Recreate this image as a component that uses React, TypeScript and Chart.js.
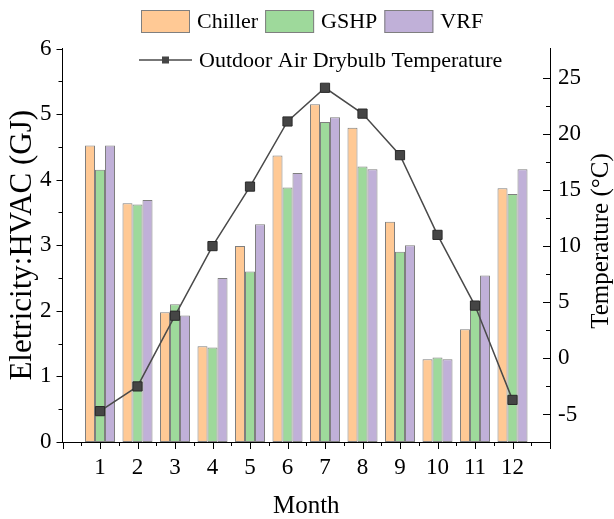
import { useEffect, useRef } from 'react';
import { Chart, registerables } from 'chart.js';

Chart.register(...registerables);

const months = ['1', '2', '3', '4', '5', '6', '7', '8', '9', '10', '11', '12'];
const chiller = [4.52, 3.64, 1.98, 1.46, 2.99, 4.37, 5.15, 4.79, 3.36, 1.26, 1.72, 3.87];
const gshp = [4.15, 3.62, 2.1, 1.44, 2.6, 3.88, 4.88, 4.2, 2.9, 1.29, 2.11, 3.78];
const vrf = [4.52, 3.69, 1.93, 2.5, 3.32, 4.1, 4.95, 4.16, 3.0, 1.26, 2.54, 4.16];
const temperature = [-4.7, -2.5, 3.8, 10.0, 15.3, 21.1, 24.1, 21.8, 18.1, 11.0, 4.7, -3.7];
const leftTicks = [0, 1, 2, 3, 4, 5, 6];
const rightTicks = [-5, 0, 5, 10, 15, 20, 25];

const FONT = "'Liberation Serif', 'Times New Roman', serif";

const labels = ['', ...months, ''];
const pad = (arr: number[]) => [null, ...arr, null];

const decorPlugin = {
  id: 'decor',
  afterDraw(chart: any) {
    const ctx: CanvasRenderingContext2D = chart.ctx;
    const xs = chart.scales.x;
    const ys = chart.scales.y;
    const y2 = chart.scales.y2;
    const area = chart.chartArea;
    ctx.save();
    ctx.strokeStyle = '#000';
    ctx.lineWidth = 1;
    const seg = (x1: number, yy1: number, x2: number, yy2: number) => {
      ctx.beginPath();
      ctx.moveTo(x1, yy1);
      ctx.lineTo(x2, yy2);
      ctx.stroke();
    };
    const b = area.bottom;
    // bottom axis ticks
    for (let i = 0; i < labels.length; i++) {
      const px = Math.round(xs.getPixelForValue(i)) + 0.5;
      seg(px, b, px, b + 7);
    }
    for (let i = 0; i < labels.length - 1; i++) {
      const px = Math.round((xs.getPixelForValue(i) + xs.getPixelForValue(i + 1)) / 2) + 0.5;
      seg(px, b, px, b + 4);
    }
    // left axis ticks (outward)
    const l = area.left;
    for (let v = ys.min; v <= ys.max + 1e-9; v += 0.5) {
      const py = Math.round(ys.getPixelForValue(v)) + 0.5;
      const major = Math.abs(v - Math.round(v)) < 1e-6;
      seg(l - (major ? 6 : 4), py, l, py);
    }
    // right axis ticks (inward)
    const r = area.right;
    for (let v = -5; v <= 25 + 1e-9; v += 2.5) {
      const py = Math.round(y2.getPixelForValue(v)) + 0.5;
      const major = Math.abs(v / 5 - Math.round(v / 5)) < 1e-6;
      seg(r - (major ? 7 : 4), py, r, py);
    }
    // axis titles
    ctx.fillStyle = '#000';
    ctx.textAlign = 'center';
    ctx.textBaseline = 'middle';
    ctx.font = `25px ${FONT}`;
    ctx.fillText('Month', (area.left + area.right) / 2, 506);
    const midY = (area.top + area.bottom) / 2;
    ctx.save();
    ctx.font = `31px ${FONT}`;
    ctx.translate(23, midY);
    ctx.rotate(-Math.PI / 2);
    ctx.fillText('Eletricity:HVAC (GJ)', 0, 0);
    ctx.restore();
    ctx.save();
    ctx.font = `25px ${FONT}`;
    ctx.translate(601, 241);
    ctx.rotate(-Math.PI / 2);
    ctx.fillText('Temperature (\u00B0C)', 0, 0);
    ctx.restore();

    // legend
    const ds = chart.data.datasets;
    ctx.font = `22px ${FONT}`;
    ctx.textAlign = 'left';
    let lx = 141;
    const row1 = 21.5;
    for (const d of ds) {
      if (d.type === 'line') continue;
      ctx.fillStyle = d.backgroundColor;
      ctx.fillRect(lx, row1 - 11.5, 49, 23);
      ctx.strokeStyle = '#7f7f7f';
      ctx.lineWidth = 1;
      ctx.strokeRect(lx + 0.5, row1 - 11, 48, 22);
      ctx.fillStyle = '#000';
      ctx.fillText(d.label, lx + 56, row1 + 1);
      lx += 56 + ctx.measureText(d.label).width + 7;
    }
    const row2 = 60;
    for (const d of ds) {
      if (d.type !== 'line') continue;
      ctx.strokeStyle = d.borderColor;
      ctx.lineWidth = 1.5;
      seg(139, row2, 192, row2);
      ctx.fillStyle = d.pointBackgroundColor;
      ctx.fillRect(162, row2 - 3.5, 7, 7);
      ctx.fillStyle = '#000';
      ctx.fillText(d.label, 199, row2 + 1);
    }
    ctx.restore();
  },
};

export default function App() {
  const ref = useRef<HTMLCanvasElement>(null);
  useEffect(() => {
    if (!ref.current) return;
    const tickFont = { family: FONT, size: 23 };
    const barCommon = {
      borderColor: '#7f7f7f',
      borderWidth: 1,
      borderSkipped: false,
      yAxisID: 'y',
      order: 1,
    };
    const chart = new Chart(ref.current, {
      type: 'bar',
      data: {
        labels,
        datasets: [
          {
            type: 'line',
            label: 'Outdoor Air Drybulb Temperature',
            data: pad(temperature),
            yAxisID: 'y2',
            borderColor: '#4a4a4a',
            borderWidth: 1.5,
            pointStyle: 'rect',
            pointRadius: 6.5,
            pointBackgroundColor: '#454545',
            pointBorderColor: '#2a2a2a',
            pointBorderWidth: 1,
            order: 0,
          } as any,
          { label: 'Chiller', data: pad(chiller), backgroundColor: '#FFC995', ...barCommon },
          { label: 'GSHP', data: pad(gshp), backgroundColor: '#9ED99B', ...barCommon },
          { label: 'VRF', data: pad(vrf), backgroundColor: '#C0B0D8', ...barCommon },
        ],
      },
      options: {
        animation: false,
        responsive: true,
        maintainAspectRatio: false,
        layout: { padding: { top: 48.5, left: 0, right: 0, bottom: 0 } },
        plugins: { legend: { display: false }, tooltip: { enabled: false } },
        datasets: { bar: { categoryPercentage: 0.8, barPercentage: 1.0 } },
        scales: {
          x: {
            offset: false,
            grid: { display: false, drawTicks: false },
            border: { display: true, color: '#000', width: 1 },
            ticks: { autoSkip: false, maxRotation: 0, color: '#000', font: tickFont, padding: 12 },
            afterFit: (s: any) => { s.height = 77; },
          },
          y: {
            position: 'left',
            min: 0,
            max: 6,
            grid: { display: false, drawTicks: false },
            border: { display: true, color: '#000', width: 1 },
            ticks: { color: '#000', font: tickFont, padding: 11 },
            afterBuildTicks: (s: any) => { s.ticks = leftTicks.map((v) => ({ value: v })); },
            afterFit: (s: any) => { s.width = 62.5; },
          },
          y2: {
            position: 'right',
            min: -7.45,
            max: 27.6,
            grid: { display: false, drawTicks: false },
            border: { display: true, color: '#000', width: 1 },
            ticks: { color: '#000', font: tickFont, padding: 8 },
            afterBuildTicks: (s: any) => { s.ticks = rightTicks.map((v) => ({ value: v })); },
            afterFit: (s: any) => { s.width = 64; },
          },
        },
      } as any,
      plugins: [decorPlugin],
    });
    return () => chart.destroy();
  }, []);
  return (
    <div style={{ position: 'fixed', left: 0, top: 0, width: 614, height: 519, background: '#fff' }}>
      <canvas ref={ref} />
    </div>
  );
}
